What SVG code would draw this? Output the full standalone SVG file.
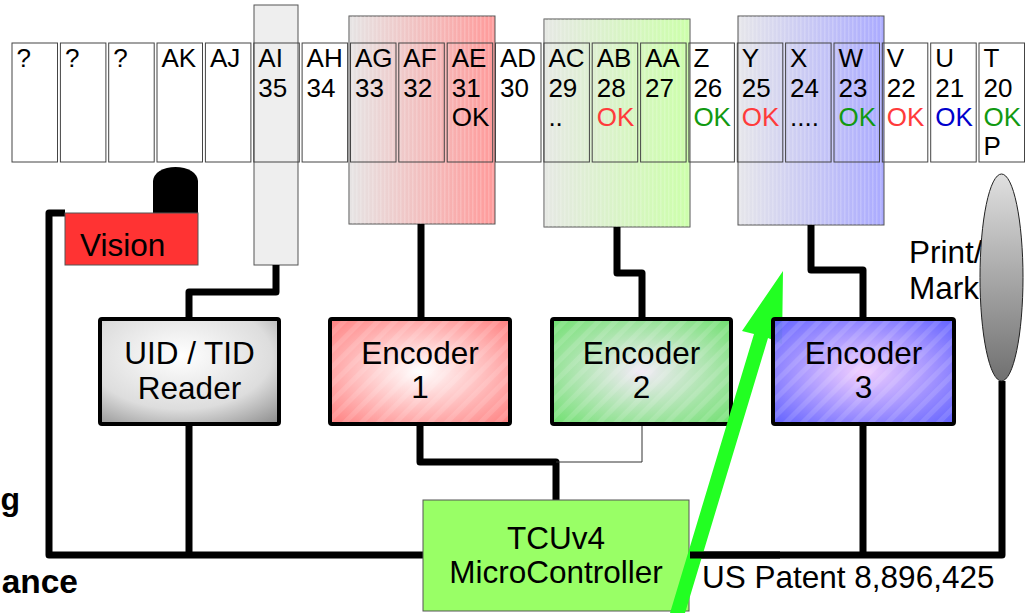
<svg xmlns="http://www.w3.org/2000/svg" width="1033" height="613" viewBox="0 0 1033 613">
<style>
text{font-family:"Liberation Sans",Arial,sans-serif;fill:#000}
.lab{font-size:26px}
.big{font-size:31.5px}
.cell{fill:none;stroke:#444;stroke-width:1}
.ov{stroke:#555;stroke-width:1}
.enc{stroke:#000;stroke-width:4}
.w{stroke:#000;stroke-width:7;fill:none;stroke-linejoin:round;stroke-linecap:butt}
.red{fill:#ff3b3b}.grn{fill:#119911}.blu{fill:#0000cc}
</style>
<defs>
<linearGradient id="gRed" x1="0" y1="0" x2="1" y2="0"><stop offset="0" stop-color="#e6e4e4"/><stop offset="1" stop-color="#ff9a9a"/></linearGradient>
<linearGradient id="gGrn" x1="0" y1="0" x2="1" y2="0"><stop offset="0" stop-color="#e6e8e4"/><stop offset="1" stop-color="#ccffaa"/></linearGradient>
<linearGradient id="gBlu" x1="0" y1="0" x2="1" y2="0"><stop offset="0" stop-color="#e6e6ea"/><stop offset="1" stop-color="#aaaaff"/></linearGradient>
<pattern id="vstr" width="4" height="10" patternUnits="userSpaceOnUse"><rect x="0" y="0" width="1.5" height="10" fill="#fff" opacity="0.18"/></pattern>
<pattern id="dstr" width="12" height="12" patternUnits="userSpaceOnUse" patternTransform="rotate(45)"><rect x="0" y="0" width="5" height="12" fill="#fff" opacity="0.12"/></pattern>
<radialGradient id="gUid" cx="0.45" cy="0.35" r="0.85"><stop offset="0" stop-color="#ffffff"/><stop offset="0.6" stop-color="#dddddd"/><stop offset="1" stop-color="#8a8a8a"/></radialGradient>
<radialGradient id="gE1" cx="0.5" cy="0.5" r="0.7"><stop offset="0" stop-color="#ffffff"/><stop offset="1" stop-color="#ff8080"/></radialGradient>
<radialGradient id="gE2" cx="0.5" cy="0.5" r="0.7"><stop offset="0" stop-color="#f2eaf6"/><stop offset="1" stop-color="#70e070"/></radialGradient>
<radialGradient id="gE3" cx="0.5" cy="0.5" r="0.7"><stop offset="0" stop-color="#f0ccff"/><stop offset="1" stop-color="#5a5aff"/></radialGradient>
<linearGradient id="gPm" x1="0" y1="0" x2="0" y2="1"><stop offset="0" stop-color="#e0e0e0"/><stop offset="1" stop-color="#707070"/></linearGradient>
</defs>

<g id="overlays">
<g id="ov-ai"><rect class="ov" x="254" y="5" width="44" height="260" fill="#eeeeee"/></g>
<g id="ov-red"><rect class="ov" x="349" y="16" width="146" height="208" fill="url(#gRed)"/><rect x="349" y="16" width="146" height="208" fill="url(#vstr)"/></g>
<g id="ov-green"><rect class="ov" x="544" y="19" width="146" height="208" fill="url(#gGrn)"/><rect x="544" y="19" width="146" height="208" fill="url(#vstr)"/></g>
<g id="ov-blue"><rect class="ov" x="738" y="16" width="146" height="209" fill="url(#gBlu)"/><rect x="738" y="16" width="146" height="209" fill="url(#vstr)"/></g>
</g>

<g id="cells">
<g id="c0"><rect class="cell" x="12" y="43" width="45.5" height="119"/><text class="lab" x="16.5" y="67">?</text></g>
<g id="c1"><rect class="cell" x="60.4" y="43" width="45.5" height="119"/><text class="lab" x="64.9" y="67">?</text></g>
<g id="c2"><rect class="cell" x="108.7" y="43" width="45.5" height="119"/><text class="lab" x="113.2" y="67">?</text></g>
<g id="c3"><rect class="cell" x="157" y="43" width="45.5" height="119"/><text class="lab" x="161.5" y="67">AK</text></g>
<g id="c4"><rect class="cell" x="205.4" y="43" width="45.5" height="119"/><text class="lab" x="209.9" y="67">AJ</text></g>
<g id="c5"><rect class="cell" x="253.8" y="43" width="45.5" height="119"/><text class="lab" x="258.3" y="67">AI</text><text class="lab" x="258.3" y="97">35</text></g>
<g id="c6"><rect class="cell" x="302.1" y="43" width="45.5" height="119"/><text class="lab" x="306.6" y="67">AH</text><text class="lab" x="306.6" y="97">34</text></g>
<g id="c7"><rect class="cell" x="350.5" y="43" width="45.5" height="119"/><text class="lab" x="355" y="67">AG</text><text class="lab" x="355" y="97">33</text></g>
<g id="c8"><rect class="cell" x="398.8" y="43" width="45.5" height="119"/><text class="lab" x="403.3" y="67">AF</text><text class="lab" x="403.3" y="97">32</text></g>
<g id="c9"><rect class="cell" x="447.2" y="43" width="45.5" height="119"/><text class="lab" x="451.7" y="67">AE</text><text class="lab" x="451.7" y="97">31</text><text class="lab" x="451.7" y="126">OK</text></g>
<g id="c10"><rect class="cell" x="495.5" y="43" width="45.5" height="119"/><text class="lab" x="500" y="67">AD</text><text class="lab" x="500" y="97">30</text></g>
<g id="c11"><rect class="cell" x="543.9" y="43" width="45.5" height="119"/><text class="lab" x="548.4" y="67">AC</text><text class="lab" x="548.4" y="97">29</text><text class="lab" x="548.4" y="126">..</text></g>
<g id="c12"><rect class="cell" x="592.2" y="43" width="45.5" height="119"/><text class="lab" x="596.7" y="67">AB</text><text class="lab" x="596.7" y="97">28</text><text class="lab red" x="596.7" y="126">OK</text></g>
<g id="c13"><rect class="cell" x="640.6" y="43" width="45.5" height="119"/><text class="lab" x="645.1" y="67">AA</text><text class="lab" x="645.1" y="97">27</text></g>
<g id="c14"><rect class="cell" x="688.9" y="43" width="45.5" height="119"/><text class="lab" x="693.4" y="67">Z</text><text class="lab" x="693.4" y="97">26</text><text class="lab grn" x="693.4" y="126">OK</text></g>
<g id="c15"><rect class="cell" x="737.3" y="43" width="45.5" height="119"/><text class="lab" x="741.8" y="67">Y</text><text class="lab" x="741.8" y="97">25</text><text class="lab red" x="741.8" y="126">OK</text></g>
<g id="c16"><rect class="cell" x="785.6" y="43" width="45.5" height="119"/><text class="lab" x="790.1" y="67">X</text><text class="lab" x="790.1" y="97">24</text><text class="lab" x="790.1" y="126">....</text></g>
<g id="c17"><rect class="cell" x="834" y="43" width="45.5" height="119"/><text class="lab" x="838.5" y="67">W</text><text class="lab" x="838.5" y="97">23</text><text class="lab grn" x="838.5" y="126">OK</text></g>
<g id="c18"><rect class="cell" x="882.3" y="43" width="45.5" height="119"/><text class="lab" x="886.8" y="67">V</text><text class="lab" x="886.8" y="97">22</text><text class="lab red" x="886.8" y="126">OK</text></g>
<g id="c19"><rect class="cell" x="930.7" y="43" width="45.5" height="119"/><text class="lab" x="935.2" y="67">U</text><text class="lab" x="935.2" y="97">21</text><text class="lab blu" x="935.2" y="126">OK</text></g>
<g id="c20"><rect class="cell" x="979" y="43" width="45.5" height="119"/><text class="lab" x="983.5" y="67">T</text><text class="lab" x="983.5" y="97">20</text><text class="lab grn" x="983.5" y="126">OK</text><text class="lab" x="983.5" y="155">P</text></g>
</g>

<g id="connectors">
<path class="w" d="M65,213 H49 V555 H423"/>
<path class="w" d="M189,424 V555"/>
<path class="w" d="M276,265 V292 H189 V319"/>
<path class="w" d="M421,224 V319"/>
<path class="w" d="M617,227 V273 H642 V319"/>
<path class="w" d="M811,225 V270 H863 V319"/>
<path class="w" d="M420,424 V462 H556 V500"/>
<path d="M642,424 V462 H556" fill="none" stroke="#333" stroke-width="1"/>
<path class="w" d="M863,424 V555"/>
<path class="w" d="M690,555 H1002 V381"/>
</g>

<g id="vision">
<path d="M153,214 V181 A22.5,14 0 0 1 198,181 V214 Z" fill="#000"/>
<rect x="65" y="213" width="133" height="52" fill="#ff3333" stroke="#555" stroke-width="1"/>
<text class="big" x="80" y="256">Vision</text>
</g>

<g id="uid-reader">
<rect class="enc" x="100" y="319" width="179" height="105" rx="2" fill="url(#gUid)"/>
<text class="big" x="189.5" y="364" text-anchor="middle">UID / TID</text>
<text class="big" x="189.5" y="399" text-anchor="middle">Reader</text>
</g>

<g id="encoder1">
<rect class="enc" x="330" y="319" width="180" height="105" rx="2" fill="url(#gE1)"/>
<rect x="332" y="321" width="176" height="101" fill="url(#dstr)"/>
<text class="big" x="420" y="364" text-anchor="middle">Encoder</text>
<text class="big" x="420" y="398" text-anchor="middle">1</text>
</g>

<g id="encoder2">
<rect class="enc" x="552" y="319" width="179" height="105" rx="2" fill="url(#gE2)"/>
<rect x="554" y="321" width="175" height="101" fill="url(#dstr)"/>
<text class="big" x="641.5" y="364" text-anchor="middle">Encoder</text>
<text class="big" x="641.5" y="398" text-anchor="middle">2</text>
</g>

<g id="tcu">
<rect x="423" y="500" width="266" height="111" fill="#99ff66" stroke="#555" stroke-width="1"/>
<text class="big" x="556" y="549" text-anchor="middle">TCUv4</text>
<text class="big" x="556" y="583" text-anchor="middle">MicroController</text>
</g>

<g id="green-arrow">
<polygon points="670,613 685,613 768,338 782,344 783,271 742,331 754,334" fill="#22ff22"/>
</g>
<path class="w" d="M690,555 H780"/>

<g id="encoder3">
<rect class="enc" x="773" y="319" width="181" height="105" rx="2" fill="url(#gE3)" fill-opacity="0.95"/>
<rect x="775" y="321" width="177" height="101" fill="url(#dstr)"/>
<text class="big" x="863.5" y="364" text-anchor="middle">Encoder</text>
<text class="big" x="863.5" y="398" text-anchor="middle">3</text>
</g>

<g id="print-mark">
<text class="big" x="909" y="263">Print/</text>
<text class="big" x="909" y="299">Mark</text>
<ellipse cx="1001.5" cy="277.5" rx="21.5" ry="103.5" fill="url(#gPm)" stroke="#222" stroke-width="1"/>
</g>

<g id="labels">
<text x="20" y="510" text-anchor="end" font-size="32" font-weight="bold">g</text>
<text x="78" y="593" text-anchor="end" font-size="33.5" font-weight="bold">ance</text>
<text class="big" x="702" y="588">US Patent 8,896,425</text>
</g>
</svg>
